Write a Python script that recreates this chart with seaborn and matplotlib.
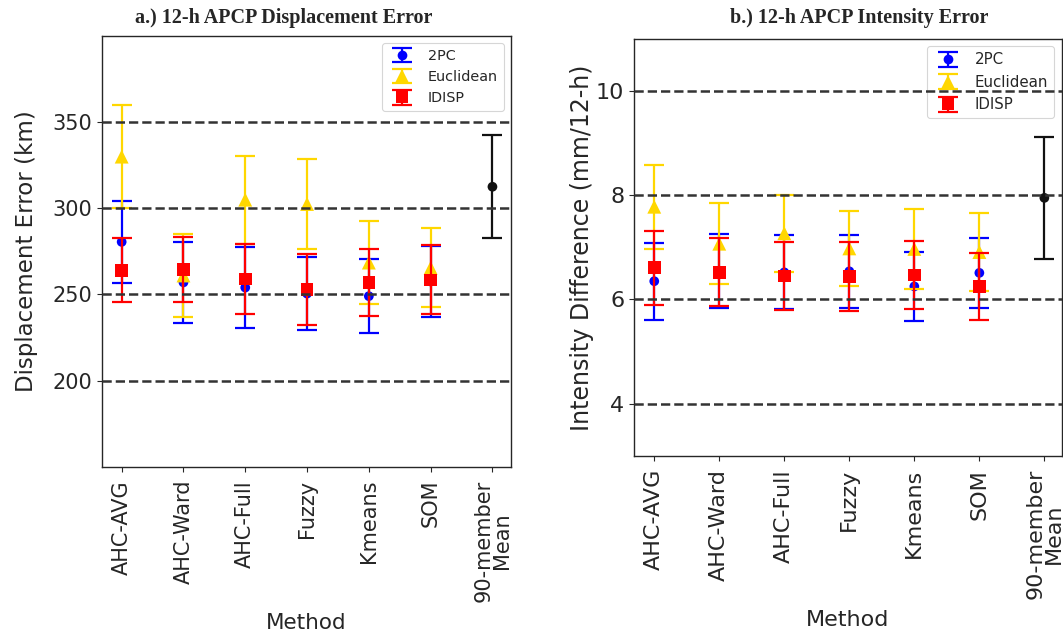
import numpy as np
import pandas as pd
import matplotlib
matplotlib.use("Agg")
import matplotlib.pyplot as plt
from matplotlib.lines import Line2D
from matplotlib.legend_handler import HandlerTuple
import seaborn as sns

# ---------------- data ----------------
methods = ["AHC-AVG", "AHC-Ward", "AHC-Full", "Fuzzy", "Kmeans", "SOM", "90-member\nMean"]
series_names = ["2PC", "Euclidean", "IDISP"]

# a.) displacement error (km)
disp_2pc = [280.5, 257.0, 254.0, 250.5, 249.0, 257.5]
disp_2pc_err = [24.0, 23.5, 23.5, 21.0, 21.5, 20.5]
disp_euc = [330.0, 261.0, 305.0, 302.5, 268.5, 265.5]
disp_euc_err = [30.0, 24.0, 25.5, 26.0, 24.0, 23.0]
disp_idisp = [264.0, 264.5, 259.0, 253.0, 257.0, 258.5]
disp_idisp_err = [18.5, 19.0, 20.5, 20.5, 19.5, 20.0]
disp_ens = [312.5]
disp_ens_err = [30.0]

# b.) intensity error (mm/12-h)
int_2pc = [6.35, 6.55, 6.52, 6.54, 6.25, 6.51]
int_2pc_err = [0.74, 0.71, 0.71, 0.70, 0.67, 0.67]
int_euc = [7.78, 7.07, 7.27, 6.98, 6.97, 6.91]
int_euc_err = [0.81, 0.78, 0.74, 0.72, 0.77, 0.74]
int_idisp = [6.61, 6.52, 6.45, 6.44, 6.47, 6.25]
int_idisp_err = [0.71, 0.65, 0.66, 0.66, 0.66, 0.64]
int_ens = [7.95]
int_ens_err = [1.17]

disp_ref_lines = [200, 250, 300, 350]
int_ref_lines = [4, 6, 8, 10]

# ---------------- style ----------------
sns.set_theme(style="ticks")
plt.rcParams["font.family"] = ["DejaVu Sans"]
plt.rcParams.update({
    "xtick.major.size": 3.5, "ytick.major.size": 3.5,
    "xtick.major.width": 0.8, "ytick.major.width": 0.8,
    "xtick.major.pad": 6.0,
    "axes.linewidth": 1.0, "axes.edgecolor": "0.15",
    "xtick.color": "0.15", "ytick.color": "0.15",
})

colors = {"2PC": "#0000FF", "Euclidean": "#FFD700", "IDISP": "#FF0000"}
markers = {"2PC": "o", "Euclidean": "^", "IDISP": "s"}
msizes = {"2PC": 7, "Euclidean": 10, "IDISP": 9}

fig = plt.figure(figsize=(10.63, 6.33), dpi=100)
ax1 = fig.add_axes([0.0962, 0.2627, 0.3845, 0.6804])
ax2 = fig.add_axes([0.5964, 0.2801, 0.4026, 0.6583])


def draw_panel(ax, vals, errs, ens, ens_err, ref_lines, ylim, xlim,
               ylabel, tick_fs, label_fs, legend_fs, ylabelpad, xlabelpad):
    x6 = np.arange(6)
    handles = []
    for i, name in enumerate(series_names):
        z = 2 + i
        eb = ax.errorbar(x6, vals[name], yerr=errs[name], fmt="none",
                         ecolor=colors[name], elinewidth=1.6, capsize=7,
                         capthick=1.6, zorder=z)
        df = pd.DataFrame({"x": x6, "y": vals[name]})
        sns.scatterplot(data=df, x="x", y="y", ax=ax, color=colors[name],
                        marker=markers[name], s=msizes[name] ** 2,
                        linewidth=0, edgecolor="none", zorder=z + 0.5,
                        legend=False)
        mk = Line2D([], [], ls="", marker=markers[name], color=colors[name],
                    ms=msizes[name], mew=0)
        handles.append((eb, mk))
    # ensemble mean
    ax.errorbar([6], ens, yerr=ens_err, fmt="none", ecolor="#111111",
                elinewidth=1.6, capsize=7, capthick=1.6, zorder=6)
    sns.scatterplot(x=[6], y=ens, ax=ax, color="#111111", s=49,
                    linewidth=0, edgecolor="none", zorder=6.5, legend=False)
    for yv in ref_lines:
        ax.axhline(yv, color="#333333", ls="--", lw=1.8, zorder=10)
    ax.set_ylim(*ylim)
    ax.set_xlim(*xlim)
    ax.set_yticks(ref_lines)
    ax.set_xticks(np.arange(7))
    ax.set_xticklabels(methods, rotation=90, fontsize=tick_fs,
                       linespacing=0.9)
    ax.tick_params(axis="y", labelsize=tick_fs)
    ax.set_xlabel("Method", fontsize=label_fs, labelpad=xlabelpad)
    ax.set_ylabel(ylabel, fontsize=label_fs + 1, labelpad=ylabelpad)
    leg = ax.legend(handles, series_names, loc="upper right",
                    fontsize=legend_fs, frameon=True, fancybox=True,
                    edgecolor="0.8", framealpha=0.8,
                    handler_map={tuple: HandlerTuple(ndivide=1)})
    leg.get_frame().set_linewidth(0.8)


draw_panel(ax1,
           {"2PC": disp_2pc, "Euclidean": disp_euc, "IDISP": disp_idisp},
           {"2PC": disp_2pc_err, "Euclidean": disp_euc_err, "IDISP": disp_idisp_err},
           disp_ens, disp_ens_err, disp_ref_lines, (150, 400), (-0.314, 6.30),
           "Displacement Error (km)", 15, 15.5, 10.4, 11, 8)

draw_panel(ax2,
           {"2PC": int_2pc, "Euclidean": int_euc, "IDISP": int_idisp},
           {"2PC": int_2pc_err, "Euclidean": int_euc_err, "IDISP": int_idisp_err},
           int_ens, int_ens_err, int_ref_lines, (3, 11), (-0.312, 6.27),
           "Intensity Difference (mm/12-h)", 16, 16, 10.8, 1.5, 8)

fig.text(0.267, 0.972, "a.) 12-h APCP Displacement Error", ha="center",
         va="center", fontsize=14.5, fontweight="bold", family="Liberation Serif")
fig.text(0.8086, 0.972, "b.) 12-h APCP Intensity Error", ha="center",
         va="center", fontsize=14.5, fontweight="bold", family="Liberation Serif")

fig.savefig("out.png", dpi=100)
